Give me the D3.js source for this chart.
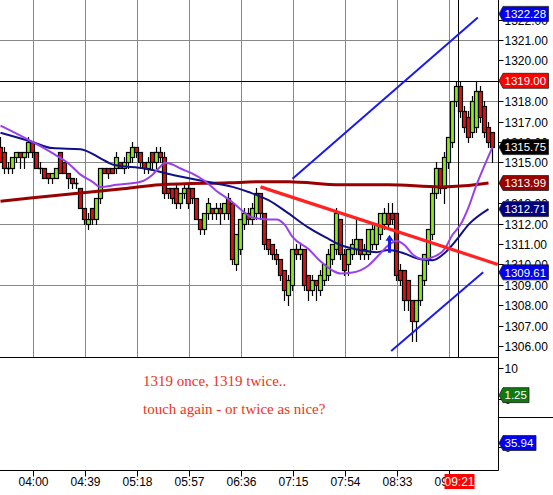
<!DOCTYPE html>
<html><head><meta charset="utf-8">
<script src="https://cdn.jsdelivr.net/npm/d3@7/dist/d3.min.js"></script>
<style>body{margin:0;background:#fff}svg{display:block}</style>
</head><body>
<svg id="c" width="553" height="495"></svg>
<script>
// ---------- DATA ----------
const firstBar = "03:36";          // time of first 3-minute bar
const barMinutes = 3;
const opens  = [1315.75,1315.5,1314.75,1314.75,1315.25,1315.5,1315.25,1315.5,1316.0,1315.5,1314.75,1314.75,1314.5,1314.25,1314.25,1315.5,1315.0,1314.5,1314.25,1314.0,1313.75,1312.75,1312.0,1312.75,1312.25,1313.25,1314.75,1314.75,1314.75,1314.75,1315.0,1314.75,1315.0,1315.25,1315.75,1315.5,1315.0,1314.75,1315.5,1315.0,1315.5,1315.25,1313.75,1313.75,1313.75,1313.0,1313.5,1313.75,1313.75,1313.25,1312.25,1311.75,1312.5,1312.75,1312.5,1312.75,1312.5,1313.25,1313.0,1310.0,1310.75,1312.0,1312.5,1312.25,1312.5,1313.5,1312.5,1311.25,1311.0,1310.5,1310.25,1309.75,1308.5,1309.0,1310.75,1310.5,1310.75,1309.5,1308.75,1309.25,1308.75,1309.25,1309.5,1310.25,1310.75,1312.25,1310.5,1310.0,1310.5,1310.75,1311.25,1310.5,1310.5,1311.0,1311.0,1311.5,1312.0,1312.5,1312.5,1312.5,1309.75,1309.75,1309.25,1308.25,1307.25,1308.25,1309.25,1310.25,1311.5,1313.5,1314.75,1313.75,1315.0,1316.0,1318.0,1318.75,1317.5,1317.25,1316.5,1316.75,1318.5,1317.75,1316.75,1316.5];
const highs  = [1316.25,1315.75,1315.0,1315.25,1315.5,1315.5,1315.5,1316.25,1316.0,1315.5,1315.0,1314.75,1314.5,1314.5,1314.75,1315.5,1315.0,1314.5,1314.25,1314.25,1313.75,1312.75,1312.5,1312.75,1313.25,1314.75,1314.75,1314.75,1314.75,1315.5,1315.0,1315.25,1315.5,1316.0,1315.75,1315.5,1315.0,1315.25,1315.5,1315.75,1315.75,1315.5,1313.75,1313.75,1314.0,1313.5,1314.0,1314.0,1313.75,1313.25,1312.25,1312.5,1313.25,1312.75,1313.0,1313.0,1313.0,1313.5,1313.0,1311.5,1312.25,1312.75,1312.75,1313.0,1313.75,1313.5,1312.5,1311.25,1311.0,1310.75,1310.25,1309.75,1309.5,1310.75,1311.0,1311.0,1310.75,1309.5,1309.5,1309.25,1309.75,1310.0,1310.75,1311.0,1312.75,1312.25,1310.75,1310.75,1311.25,1312.25,1311.25,1311.0,1311.75,1312.0,1312.0,1312.5,1312.75,1313.0,1313.0,1312.5,1310.0,1309.75,1309.25,1308.25,1308.25,1309.5,1310.5,1311.75,1313.75,1315.0,1314.75,1315.5,1316.25,1318.0,1319.0,1319.0,1317.75,1317.5,1318.25,1319.0,1318.75,1318.0,1317.0,1316.5];
const lows   = [1315.0,1314.5,1314.5,1314.5,1315.0,1314.75,1314.75,1315.25,1315.25,1314.75,1314.5,1314.25,1314.0,1314.0,1314.25,1314.5,1314.5,1313.75,1313.75,1313.75,1312.75,1312.0,1311.75,1312.0,1312.0,1313.0,1314.5,1314.25,1314.5,1314.5,1314.75,1314.5,1314.75,1315.0,1315.25,1314.75,1314.5,1314.5,1314.75,1314.75,1315.0,1313.25,1313.25,1313.0,1312.75,1312.75,1313.25,1312.75,1313.0,1312.25,1311.5,1311.5,1312.25,1312.25,1312.25,1312.0,1312.25,1312.25,1310.0,1309.75,1310.5,1311.75,1312.0,1312.0,1312.25,1312.25,1310.75,1310.5,1310.25,1310.0,1309.25,1308.25,1308.0,1308.75,1310.25,1310.25,1308.75,1308.25,1308.5,1308.25,1308.5,1309.0,1309.25,1310.0,1310.5,1310.25,1309.5,1309.5,1310.25,1310.5,1310.25,1310.25,1310.25,1310.75,1310.75,1311.25,1311.75,1311.75,1312.0,1309.25,1309.0,1307.75,1307.75,1306.25,1306.25,1308.0,1309.0,1310.0,1311.25,1313.25,1313.5,1313.0,1314.75,1315.75,1317.75,1317.25,1316.5,1316.0,1316.25,1316.5,1317.0,1316.25,1315.75,1315.0];
const closes = [1315.0,1314.75,1314.75,1315.25,1315.5,1315.25,1315.5,1316.0,1315.5,1314.75,1314.75,1314.25,1314.25,1314.5,1314.75,1314.5,1314.5,1314.25,1314.0,1314.0,1312.75,1312.25,1312.25,1312.25,1313.25,1314.75,1314.5,1314.5,1314.5,1315.25,1314.75,1315.0,1315.5,1315.75,1315.5,1315.0,1314.75,1315.0,1315.0,1315.5,1315.25,1313.5,1313.5,1313.25,1313.0,1313.5,1313.75,1313.0,1313.25,1312.25,1311.75,1312.5,1313.0,1312.5,1312.75,1312.5,1313.0,1312.5,1310.25,1311.5,1312.25,1312.5,1312.25,1312.75,1313.5,1312.5,1311.0,1310.75,1310.5,1310.25,1309.5,1308.75,1309.25,1310.75,1310.5,1310.75,1309.0,1308.75,1309.25,1309.0,1309.5,1310.0,1310.5,1311.0,1312.5,1310.5,1309.75,1310.75,1311.0,1311.25,1310.5,1310.75,1311.75,1311.75,1312.0,1312.5,1312.5,1312.0,1312.25,1309.5,1309.25,1308.25,1308.25,1307.25,1308.25,1309.5,1310.5,1311.75,1313.5,1314.75,1313.75,1315.25,1316.25,1318.0,1318.75,1317.5,1316.75,1316.25,1318.0,1318.5,1317.25,1316.5,1316.0,1315.75];

// moving averages (bar index -> price)
const maroonBars = [0,15,30,40,57,65,72,85,97,110,116,122];
const maroonVals = [1313.1,1313.4,1313.7,1313.9,1314.0,1314.05,1314.05,1313.9,1313.9,1313.8,1313.85,1313.99];
const navyBars = [0,8,13,20,25,28,36,44,49,53,58,62,67,72,77,82,85,90,94,97,100,105,108,111,114,117,122];
const navyVals = [1316.45,1316.0,1315.7,1315.65,1315.2,1314.9,1314.7,1314.35,1314.15,1314.0,1313.8,1313.55,1313.15,1312.5,1311.8,1311.25,1310.95,1310.7,1310.6,1310.7,1310.6,1310.25,1310.2,1310.55,1311.2,1311.95,1312.71];
const purpleBars = [0,8,13,17,20,23,25,29,35,38,40,41,43,45,48,51,54,58,60,63,67,69,71,73,77,80,83,85,88,92,95,97,99,101,103,106,108,111,113,115,117,119,121,123];
const purpleVals = [1316.8,1316.0,1315.45,1314.95,1314.4,1314.05,1313.8,1313.9,1314.05,1314.4,1314.8,1314.97,1314.9,1314.7,1314.45,1314.1,1313.6,1313.05,1312.7,1312.3,1312.2,1312.2,1311.95,1311.35,1310.75,1310.15,1309.7,1309.55,1309.6,1309.95,1310.55,1310.95,1311.15,1310.95,1310.5,1310.25,1310.35,1310.75,1311.45,1311.95,1312.8,1313.9,1314.85,1315.75];

// drawn lines: [time, price] endpoints
const redTrend   = [["06:51",1313.8],["09:49",1310.0]];
const blueUpper  = [["07:15",1314.2],["09:34",1322.1]];
const blueLower  = [["08:29",1305.75],["09:38",1309.61]];
const arrowAt    = ["08:27",1311.45];

const timeTicks  = ["04:00","04:39","05:18","05:57","06:36","07:15","07:54","08:33","09:12"];
const priceTicks = [1306,1307,1308,1309,1310,1311,1312,1313,1314,1315,1316,1317,1318,1319,1320,1321,1322];
const gridPrices = [1309,1312,1315,1318,1321];
const cursorTime = "09:21", cursorPrice = 1319.00;

const priceFlags = [
  {v:1322.28, bg:"#0000ee", fg:"#fff"},
  {v:1319.00, bg:"#ff0000", fg:"#fff"},
  {v:1315.75, bg:"#000000", fg:"#fff"},
  {v:1313.99, bg:"#990000", fg:"#fff"},
  {v:1312.71, bg:"#000080", fg:"#fff"},
  {v:1309.61, bg:"#0000ee", fg:"#fff"}
];
const panel1Ticks = [0,10], panel1Flag = 1.25;
const panel2Ticks = [0],    panel2Flag = 35.94;
const notes = ["1319 once, 1319 twice..","touch again - or twice as nice?"];

// ---------- SCALES ----------
const toMin = s => { const [h,m] = s.split(":").map(Number); return h*60+m; };
const t0 = toMin(firstBar);
const x = d3.scaleLinear().domain([toMin("04:00"), toMin("09:12")]).range([32.5, 448.5]);
const y = d3.scaleLinear().domain([1306, 1322]).range([346, 19.6]);
const barX = i => x(t0 + i*barMinutes);
const yP1 = d3.scaleLinear().domain([0,10]).range([399,368]);
const yP2 = d3.scaleLinear().domain([0,100]).range([447,436]);

const AX = 498.5;   // price axis
const MAIN_BOTTOM = 357.5, P_SEP = 417.5, BOTTOM = 470.5;

const svg = d3.select("#c");
const font = "'Liberation Sans', Arial, sans-serif";
svg.append("rect").attr("width",553).attr("height",495).attr("fill","#fff");

svg.append("clipPath").attr("id","main").append("rect")
  .attr("x",0).attr("y",0).attr("width",AX).attr("height",MAIN_BOTTOM);
const g = svg.append("g").attr("clip-path","url(#main)");

// grid
g.selectAll(".vg").data(timeTicks).join("line")
  .attr("x1",d=>Math.round(x(toMin(d)))+0.5).attr("x2",d=>Math.round(x(toMin(d)))+0.5)
  .attr("y1",0).attr("y2",MAIN_BOTTOM).attr("stroke","#888").attr("stroke-width",1);
g.selectAll(".hg").data(gridPrices).join("line")
  .attr("x1",0).attr("x2",AX).attr("y1",d=>Math.round(y(d))+0.5).attr("y2",d=>Math.round(y(d))+0.5)
  .attr("stroke","#888").attr("stroke-width",1);

// crosshair
g.append("line").attr("x1",0).attr("x2",AX)
  .attr("y1",Math.round(y(cursorPrice))+0.5).attr("y2",Math.round(y(cursorPrice))+0.5)
  .attr("stroke","#000");
g.append("line").attr("x1",Math.round(x(toMin(cursorTime)))-1.5).attr("x2",Math.round(x(toMin(cursorTime)))-1.5)
  .attr("y1",0).attr("y2",MAIN_BOTTOM).attr("stroke","#000");

// candles
const bars = opens.map((o,i)=>({i,o,h:highs[i],l:lows[i],c:closes[i]}));
const cg = g.append("g");
bars.forEach(b=>{
  const cx = Math.round(barX(b.i)-0.5)+0.5;
  cg.append("line").attr("x1",cx).attr("x2",cx)
    .attr("y1",Math.round(y(b.h))).attr("y2",Math.round(y(b.l))+1)
    .attr("stroke","#000").attr("stroke-width",1.2);
  const top = Math.round(y(Math.max(b.o,b.c)))+0.5, bot = Math.round(y(Math.min(b.o,b.c)))+0.5;
  if (b.o===b.c) {
    cg.append("line").attr("x1",cx-2).attr("x2",cx+2).attr("y1",top).attr("y2",top).attr("stroke","#000").attr("stroke-width",1.5);
  } else {
    cg.append("rect").attr("x",cx-2).attr("y",top).attr("width",4).attr("height",bot-top)
      .attr("fill", b.c>b.o ? "#88ee11" : "#dd1111").attr("stroke","#000").attr("stroke-width",1.2);
  }
});

// moving averages
const maLine = d3.line().x(d=>barX(d[0])).y(d=>y(d[1])).curve(d3.curveMonotoneX);
g.append("path").attr("d",maLine(maroonBars.map((b,i)=>[b,maroonVals[i]])))
  .attr("fill","none").attr("stroke","#990000").attr("stroke-width",3);
g.append("path").attr("d",maLine(navyBars.map((b,i)=>[b,navyVals[i]])))
  .attr("fill","none").attr("stroke","#101088").attr("stroke-width",2);
g.append("path").attr("d",maLine(purpleBars.map((b,i)=>[b,purpleVals[i]])))
  .attr("fill","none").attr("stroke","#9940ee").attr("stroke-width",2);

// trend lines
const seg = (pts,col,w)=> g.append("line")
  .attr("x1",x(toMin(pts[0][0]))).attr("y1",y(pts[0][1]))
  .attr("x2",x(toMin(pts[1][0]))).attr("y2",y(pts[1][1]))
  .attr("stroke",col).attr("stroke-width",w);
seg(redTrend,"#ff2222",3.2);
seg(blueUpper,"#1a1aee",2);
seg(blueLower,"#1a1aee",2);

// arrow
{
  const ax = Math.round(x(toMin(arrowAt[0])))+0.5, ay = y(arrowAt[1]);
  g.append("path").attr("d",`M${ax},${ay} L${ax+4},${ay+6} L${ax+1.5},${ay+6} L${ax+1.5},${ay+18} L${ax-1.5},${ay+18} L${ax-1.5},${ay+6} L${ax-4},${ay+6} Z`)
    .attr("fill","#1a1aee");
}

// frames
svg.append("line").attr("x1",0).attr("x2",AX).attr("y1",MAIN_BOTTOM).attr("y2",MAIN_BOTTOM).attr("stroke","#000");
svg.append("line").attr("x1",0).attr("x2",AX).attr("y1",BOTTOM).attr("y2",BOTTOM).attr("stroke","#000");
svg.append("line").attr("x1",AX).attr("x2",553).attr("y1",P_SEP).attr("y2",P_SEP).attr("stroke","#000");
svg.append("line").attr("x1",AX).attr("x2",AX).attr("y1",0).attr("y2",BOTTOM).attr("stroke","#000");

// price axis ticks
const pa = svg.append("g");
priceTicks.forEach(p=>{
  const yy = Math.round(y(p))+0.5;
  pa.append("line").attr("x1",AX).attr("x2",AX+5).attr("y1",yy).attr("y2",yy).attr("stroke","#000");
  pa.append("text").attr("x",AX+6).attr("y",yy+4.5).attr("font-family",font).attr("font-size",12)
    .attr("fill","#000").text(p.toFixed(2));
});
panel1Ticks.forEach(v=>{
  const yy = Math.round(yP1(v))+0.5;
  pa.append("line").attr("x1",AX).attr("x2",AX+5).attr("y1",yy).attr("y2",yy).attr("stroke","#000");
  pa.append("text").attr("x",AX+6).attr("y",yy+4.5).attr("font-family",font).attr("font-size",12).text(v);
});
panel2Ticks.forEach(v=>{
  const yy = Math.round(yP2(v))+0.5;
  pa.append("line").attr("x1",AX).attr("x2",AX+5).attr("y1",yy).attr("y2",yy).attr("stroke","#000");
  pa.append("text").attr("x",AX+6).attr("y",yy+4.5).attr("font-family",font).attr("font-size",12).text(v);
});

// flags
function flag(yy, txt, bg, fg, w){
  const h = 7.5, x0 = AX+0.5, x1 = x0+4, x2 = x1+w;
  pa.append("path").attr("d",`M${x0},${yy} L${x1},${yy-h} L${x2},${yy-h} L${x2},${yy+h} L${x1},${yy+h} Z`)
    .attr("fill",bg).attr("stroke","#222").attr("stroke-width",0.8);
  pa.append("text").attr("x",x1+1.5).attr("y",yy+4.2).attr("font-family",font).attr("font-size",11.5)
    .attr("fill",fg).text(txt);
}
priceFlags.forEach(f=>flag(y(f.v), f.v.toFixed(2), f.bg, f.fg, 45.5));
flag(yP1(panel1Flag), panel1Flag.toFixed(2), "#117711", "#fff", 26);
flag(yP2(panel2Flag), panel2Flag.toFixed(2), "#0000ee", "#fff", 33);

// time axis
const ta = svg.append("g");
timeTicks.forEach(t=>{
  const xx = Math.round(x(toMin(t)))+0.5;
  ta.append("line").attr("x1",xx).attr("x2",xx).attr("y1",BOTTOM).attr("y2",BOTTOM+6).attr("stroke","#000");
  ta.append("text").attr("x",xx).attr("y",486).attr("text-anchor","middle").attr("font-family",font)
    .attr("font-size",12).text(t);
});
{
  const xx = x(toMin(cursorTime));
  ta.append("rect").attr("x",xx-16).attr("y",474).attr("width",30).attr("height",15).attr("fill","#ff0000");
  ta.append("text").attr("x",xx-1).attr("y",486).attr("text-anchor","middle").attr("font-family",font)
    .attr("font-size",12).attr("fill","#fff").text(cursorTime);
}

// annotations
notes.forEach((n,i)=>{
  svg.append("text").attr("x",143).attr("y",386+i*28).attr("font-family","'Liberation Serif', 'Times New Roman', serif")
    .attr("font-size",15).attr("fill","#ee3322").text(n);
});
</script>
</body></html>
